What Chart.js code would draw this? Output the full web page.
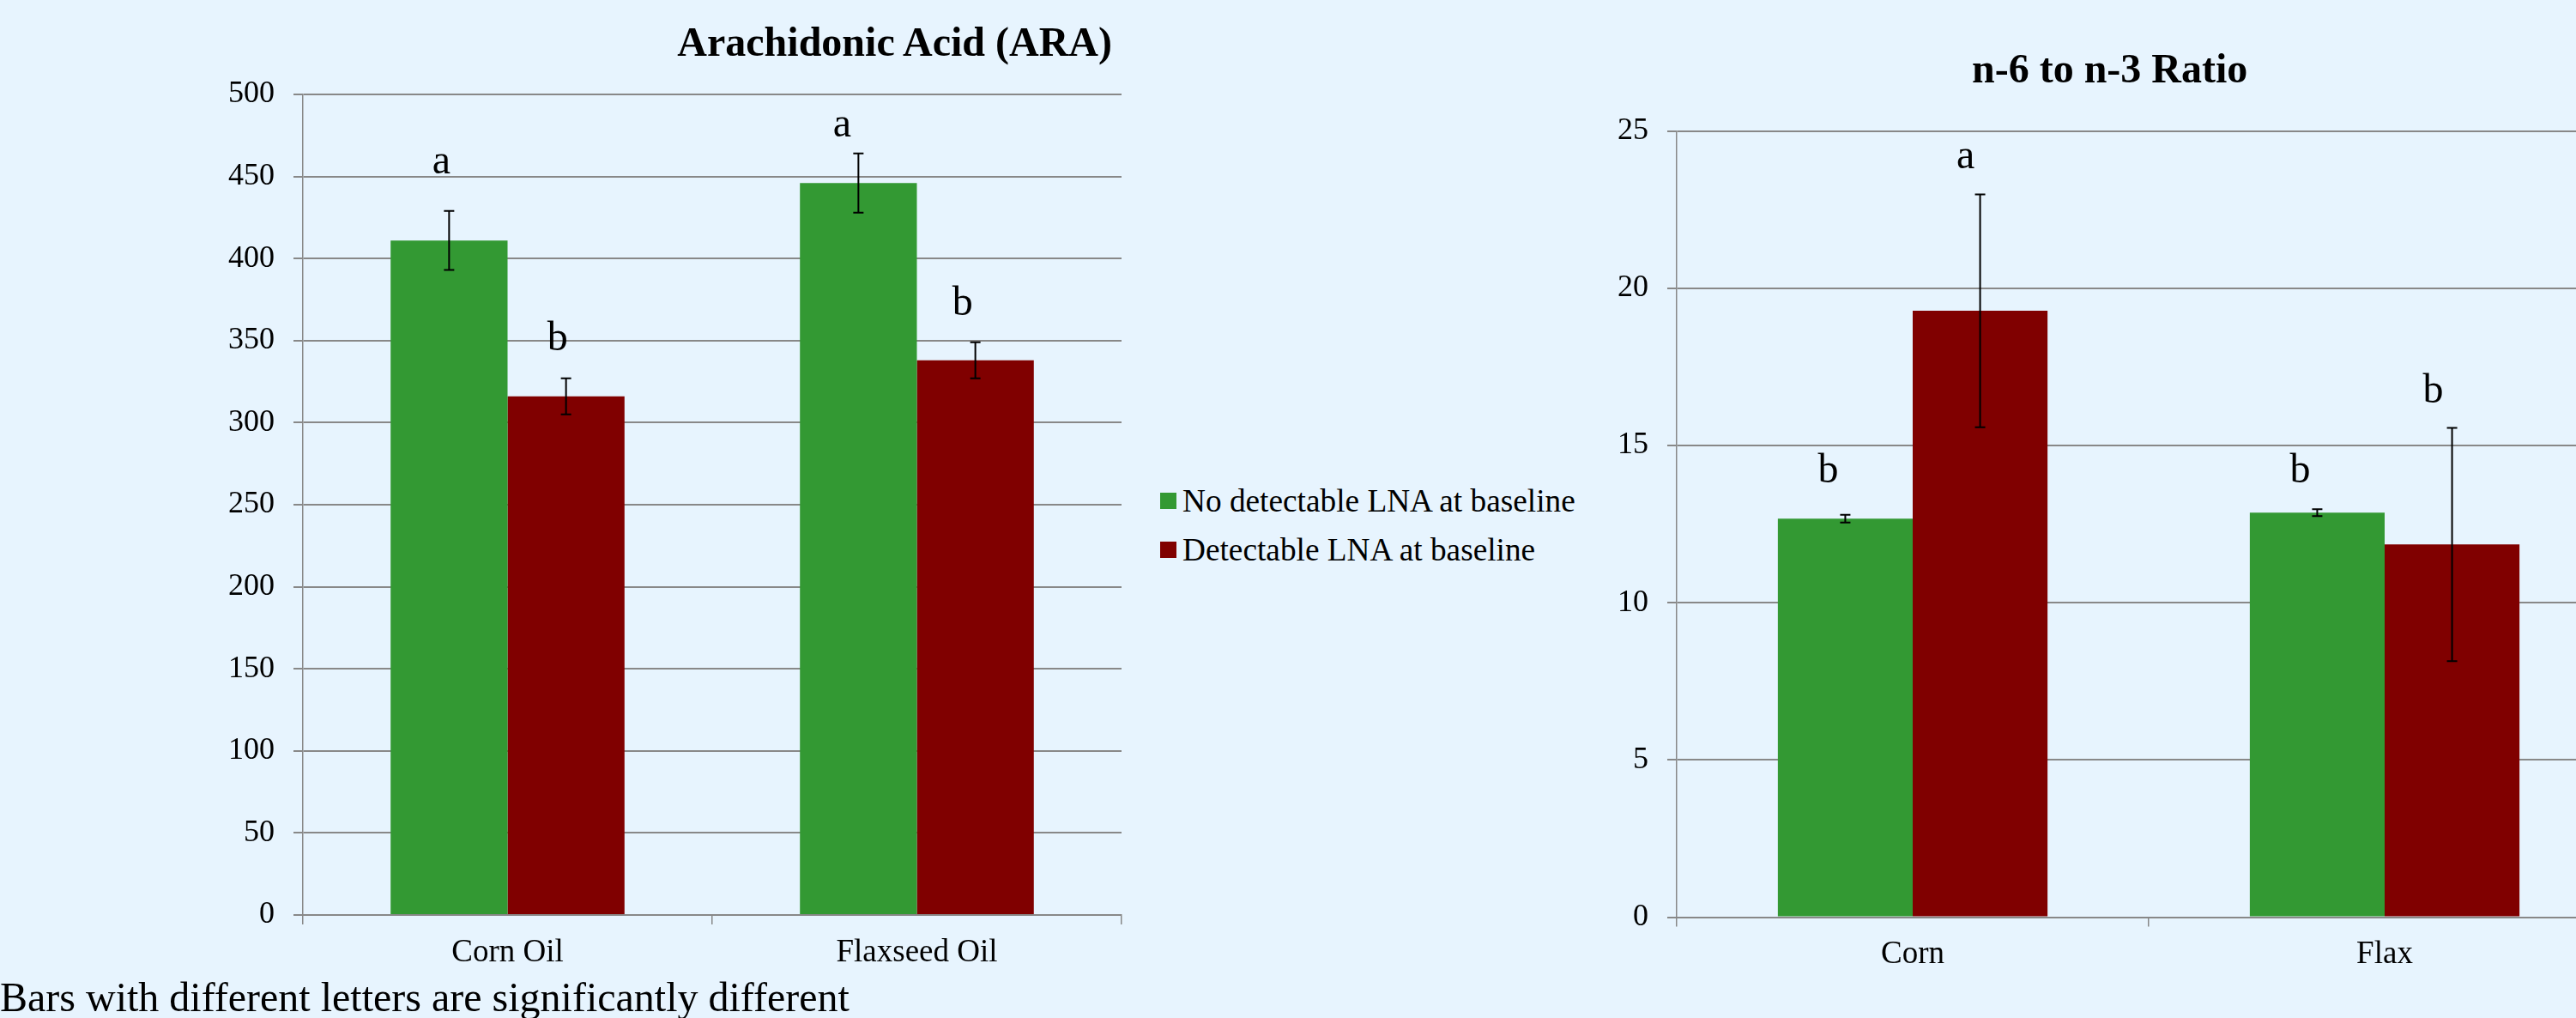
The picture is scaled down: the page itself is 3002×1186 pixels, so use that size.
<!DOCTYPE html>
<html>
<head>
<meta charset="utf-8">
<script src="https://cdn.jsdelivr.net/npm/chart.js@4.4.1/dist/chart.umd.min.js"></script>
<style>
  html, body { margin: 0; padding: 0; width: 3002px; height: 1186px; overflow: hidden; background: #e7f4fe; }
  body { position: relative; font-family: "Liberation Serif", "Times New Roman", serif; color: #000; }
  canvas { position: absolute; top: 0; }
  #araCanvas { left: 0; }
  #ratioCanvas { left: 1860px; }
  .title { position: absolute; font-weight: bold; font-size: 48px; line-height: 1; white-space: nowrap; }
  #araTitle { right: 1706px; top: 25px; }
  #ratioTitle { left: 2298px; top: 56px; }
  #legend { position: absolute; left: 1352px; top: 555px; font-size: 37.3px; }
  .item { display: flex; align-items: center; height: 57px; white-space: nowrap; }
  .swatch { width: 19px; height: 19px; margin-right: 7px; flex: none; }
  #note { position: absolute; left: 0; top: 1138px; font-size: 48px; line-height: 1; white-space: nowrap; }
</style>
</head>
<body>
<canvas id="araCanvas" width="1330" height="1186"></canvas>
<canvas id="ratioCanvas" width="1217" height="1186"></canvas>
<div class="title" id="araTitle">Arachidonic Acid (ARA)</div>
<div class="title" id="ratioTitle">n-6 to n-3 Ratio</div>
<div id="legend"></div>
<div id="note">Bars with different letters are significantly different</div>
<script>
// Groups and series
const araCategories = ['Corn Oil', 'Flaxseed Oil'];
const ratioCategories = ['Corn', 'Flax'];
const seriesNames = ['No detectable LNA at baseline', 'Detectable LNA at baseline'];
const seriesColors = ['#339933', '#800000'];

// Arachidonic acid: means, error half-widths and significance letters
const araNoLNA = [411, 446];
const araNoLNAErr = [18, 18];
const araNoLNALetters = ['a', 'a'];
const araLNA = [316, 338];
const araLNAErr = [11, 11];
const araLNALetters = ['b', 'b'];

// n-6 to n-3 ratio: means, error half-widths and significance letters
const ratioNoLNA = [12.67, 12.86];
const ratioNoLNAErr = [0.12, 0.11];
const ratioNoLNALetters = ['b', 'b'];
const ratioLNA = [19.28, 11.85];
const ratioLNAErr = [3.7, 3.71];
const ratioLNALetters = ['a', 'b'];

// Value axes
const araAxis = { min: 0, max: 500, step: 50 };
const ratioAxis = { min: 0, max: 25, step: 5 };

const GRID = '#888888';
Chart.defaults.font.family = '"Liberation Serif", "Times New Roman", serif';
Chart.defaults.font.size = 36;
Chart.defaults.color = '#000';

// Error whiskers with caps, plus the letter above each whisker
const errorBars = {
  id: 'errorBars',
  afterDatasetsDraw(chart, args, opts) {
    const ctx = chart.ctx;
    const y = chart.scales.y;
    chart.data.datasets.forEach((ds, i) => {
      chart.getDatasetMeta(i).data.forEach((bar, j) => {
        const v = ds.data[j], e = ds.errors[j];
        const top = y.getPixelForValue(v + e);
        const bot = y.getPixelForValue(v - e);
        const half = opts.cap / 2;
        ctx.save();
        ctx.strokeStyle = '#000';
        ctx.lineWidth = opts.lineWidth;
        ctx.beginPath();
        ctx.moveTo(bar.x, top); ctx.lineTo(bar.x, bot);
        ctx.moveTo(bar.x - half, top); ctx.lineTo(bar.x + half, top);
        ctx.moveTo(bar.x - half, bot); ctx.lineTo(bar.x + half, bot);
        ctx.stroke();
        ctx.fillStyle = '#000';
        ctx.font = opts.letterFont;
        ctx.textAlign = 'center';
        ctx.textBaseline = 'alphabetic';
        ctx.fillText(ds.letters[j], bar.x + opts.nudgeX[i][j], top - opts.lift[i][j]);
        ctx.restore();
      });
    });
  }
};

function makeChart(id, categories, sets, axis, cfg) {
  return new Chart(document.getElementById(id), {
    type: 'bar',
    data: {
      labels: categories,
      datasets: sets.map((s, i) => ({
        label: seriesNames[i],
        data: s.values,
        errors: s.errors,
        letters: s.letters,
        backgroundColor: seriesColors[i],
        borderWidth: 0,
        categoryPercentage: 0.5714,
        barPercentage: 1.0
      }))
    },
    options: {
      responsive: false,
      animation: false,
      events: [],
      layout: { padding: cfg.padding },
      plugins: {
        legend: { display: false },
        title: { display: false },
        tooltip: { enabled: false },
        errorBars: { cap: 12, lineWidth: 2, letterFont: '48px "Liberation Serif", serif', lift: cfg.lift, nudgeX: cfg.nudgeX }
      },
      scales: {
        x: {
          offset: true,
          grid: { offset: true, drawOnChartArea: false, drawTicks: true, tickLength: 11, color: GRID, lineWidth: 1.5 },
          border: { display: true, color: GRID, width: 2 },
          ticks: { padding: 11, font: { size: 37 } },
          afterFit(scale) { scale.height = 80; }
        },
        y: {
          min: axis.min, max: axis.max,
          grid: { color: GRID, lineWidth: 2, tickLength: 11 },
          border: { display: true, color: GRID, width: 1.5 },
          ticks: { stepSize: axis.step, padding: 22, font: { size: 36 } },
          afterFit(scale) { scale.width = cfg.yWidth; }
        }
      }
    },
    plugins: [errorBars]
  });
}

makeChart('araCanvas', araCategories, [
  { values: araNoLNA, errors: araNoLNAErr, letters: araNoLNALetters },
  { values: araLNA, errors: araLNAErr, letters: araLNALetters }
], araAxis, {
  yWidth: 353,
  padding: { left: 0, right: 23, top: 110, bottom: 40 },
  lift: [[44, 20], [33, 32]],
  nudgeX: [[-9, -19], [-10, -15]]
});

makeChart('ratioCanvas', ratioCategories, [
  { values: ratioNoLNA, errors: ratioNoLNAErr, letters: ratioNoLNALetters },
  { values: ratioLNA, errors: ratioLNAErr, letters: ratioLNALetters }
], ratioAxis, {
  yWidth: 94,
  padding: { left: 0, right: 23, top: 152.5, bottom: 37.5 },
  lift: [[38, 31], [31, 29]],
  nudgeX: [[-20, -20], [-17, -22]]
});

// Legend built from the series names and colours
const legend = document.getElementById('legend');
seriesNames.forEach((name, i) => {
  const item = document.createElement('div');
  item.className = 'item';
  const sw = document.createElement('span');
  sw.className = 'swatch';
  sw.style.background = seriesColors[i];
  const txt = document.createElement('span');
  txt.textContent = name;
  item.appendChild(sw);
  item.appendChild(txt);
  legend.appendChild(item);
});
</script>
</body>
</html>
